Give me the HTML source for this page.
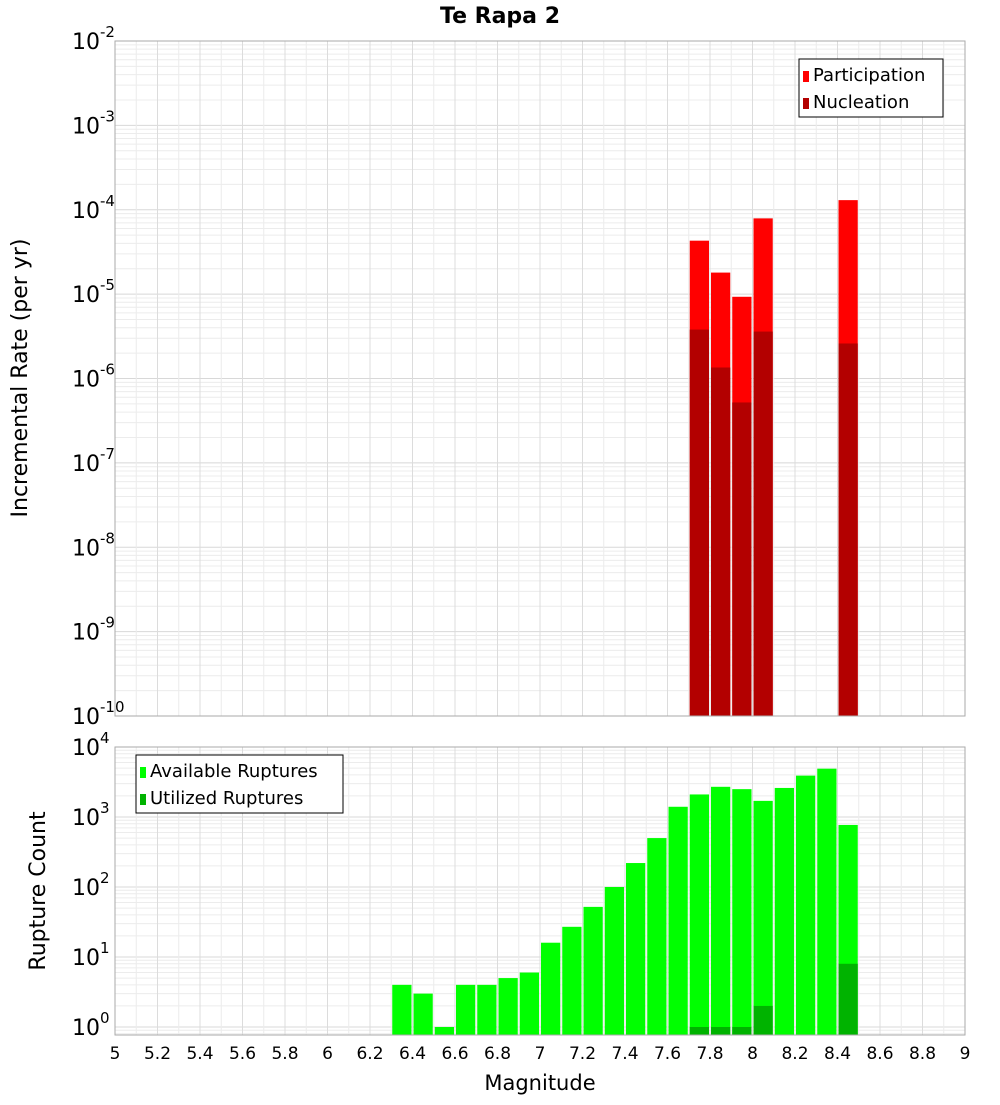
<!DOCTYPE html>
<html><head><meta charset="utf-8"><style>
body{margin:0;background:#fff;font-family:"Liberation Sans","DejaVu Sans",sans-serif}
</style></head><body>
<svg id="c" width="1000" height="1100" xmlns="http://www.w3.org/2000/svg" font-family="DejaVu Sans, Liberation Sans, sans-serif"></svg>
<script>
const mags=[7.75,7.85,7.95,8.05,8.45];
const partRates=[4.3e-5,1.8e-5,9.3e-6,7.9e-5,1.3e-4];
const nuclRates=[3.8e-6,1.35e-6,5.2e-7,3.6e-6,2.6e-6];
const ruptMags=[6.35,6.45,6.55,6.65,6.75,6.85,6.95,7.05,7.15,7.25,7.35,7.45,7.55,7.65,7.75,7.85,7.95,8.05,8.15,8.25,8.35,8.45];
const availCounts=[4,3,1,4,4,5,6,16,27,52,100,220,500,1400,2100,2700,2500,1700,2600,3900,4900,770];
const usedMags=[7.75,7.85,7.95,8.05,8.45];
const usedCounts=[1,1,1,2,8];
const xTicks=[5,5.2,5.4,5.6,5.8,6,6.2,6.4,6.6,6.8,7,7.2,7.4,7.6,7.8,8,8.2,8.4,8.6,8.8,9];
const topExp=[-10,-9,-8,-7,-6,-5,-4,-3,-2];
const botExp=[0,1,2,3,4];

const NS="http://www.w3.org/2000/svg",svg=document.getElementById('c');
function el(t,a,p){const e=document.createElementNS(NS,t);for(const k in a)e.setAttribute(k,a[k]);(p||svg).appendChild(e);return e;}
const X0=115,X1=965;
const x=m=>X0+(m-5)/4*(X1-X0);
const T0=41,T1=716;
const yT=v=>T0+(-2-Math.log10(v))*(T1-T0)/8;
const B0=747,B1=1035,BD=70,B1e0=1027;
const yB=v=>B1e0-Math.log10(v)*BD;

function grid(top,bot,ylog,e0,e1,name){
  const g=el('g',{});
  for(let e=e0;e<=e1;e++)for(let k=1;k<10;k++){const y=ylog(k*Math.pow(10,e));if(y<top-0.5||y>bot+0.5)continue;
    el('line',{x1:X0,x2:X1,y1:y,y2:y,stroke:k==1?'#d8d8d8':'#ececec','stroke-width':1},g);}
  for(let m=5;m<=9.001;m+=0.1){const xx=x(m);el('line',{x1:xx,x2:xx,y1:top,y2:bot,stroke:'#ececec','stroke-width':1},g);}
  for(const t of xTicks){el('line',{x1:x(t),x2:x(t),y1:top,y2:bot,stroke:'#dcdcdc','stroke-width':1},g);}
}
grid(T0,T1,yT,-10,-3,'top-grid');
grid(B0,B1,yB,-1,4,'bottom-grid');

function bar(m,v,ylog,base,color,name){
  const y=ylog(v);const r=el('rect',{x:x(m-0.05)+1,y:y,width:x(0.1+5)-X0-2,height:base-y,fill:color});
  
}
mags.forEach((m,i)=>bar(m,partRates[i],yT,T1,'#ff0000','participation-bar'));
mags.forEach((m,i)=>bar(m,nuclRates[i],yT,T1,'#b30000','nucleation-bar'));
ruptMags.forEach((m,i)=>bar(m,availCounts[i],yB,B1,'#00ff00','available-bar'));
usedMags.forEach((m,i)=>bar(m,usedCounts[i],yB,B1,'#00b300','utilized-bar'));

el('rect',{x:X0,y:T0,width:X1-X0,height:T1-T0,fill:'none',stroke:'#aaa'});
el('rect',{x:X0,y:B0,width:X1-X0,height:B1-B0,fill:'none',stroke:'#aaa'});

function ylab(y,e,name){
  const t=el('text',{x:X0-5,y:y+8,'text-anchor':'end','font-size':22,fill:'#000'});
  
  const a=el('tspan',{},t);a.textContent='10';const b=el('tspan',{dy:-12,'font-size':15},t);b.textContent=e;
  t.setAttribute('x',X0+4);
  return t;
}
topExp.forEach(e=>{const y=yT(Math.pow(10,e));const t=el('text',{x:72,y:y+8,'font-size':22});
  const a=el('tspan',{},t);a.textContent='10';const b=el('tspan',{dy:-12,'font-size':15},t);b.textContent=String(e);});
botExp.forEach(e=>{const y=yB(Math.pow(10,e));const t=el('text',{x:72,y:y+8,'font-size':22});
  const a=el('tspan',{},t);a.textContent='10';const b=el('tspan',{dy:-12,'font-size':15},t);b.textContent=String(e);});
xTicks.forEach(t=>{const s=el('text',{x:x(t),y:1059,'text-anchor':'middle','font-size':17});s.textContent=String(t);});

function txt(s,a,name){const t=el('text',a);t.textContent=s;return t;}
txt('Te Rapa 2',{x:500,y:23,'text-anchor':'middle','font-size':22,'font-weight':'bold'},'chart-title');
txt('Magnitude',{x:540,y:1090,'text-anchor':'middle','font-size':21},'x-axis-title');
txt('Incremental Rate (per yr)',{x:27,y:378,'text-anchor':'middle','font-size':22,transform:'rotate(-90 27 378)'},'top-y-axis-title');
txt('Rupture Count',{x:45,y:891,'text-anchor':'middle','font-size':22,transform:'rotate(-90 45 891)'},'bottom-y-axis-title');

function legend(x0,y0,w,items,name){
  const g=el('g',{});
  el('rect',{x:x0,y:y0,width:w,height:58,fill:'#fff',stroke:'#000'},g);
  items.forEach((it,i)=>{el('rect',{x:x0+4,y:y0+12+i*27,width:6,height:11,fill:it[1]},g);
    const t=el('text',{x:x0+14,y:y0+22+i*27,'font-size':18},g);t.textContent=it[0];});
}
legend(799,59,144,[['Participation','#ff0000'],['Nucleation','#b30000']],'top-legend');
legend(136,755,207,[['Available Ruptures','#00ff00'],['Utilized Ruptures','#00b300']],'bottom-legend');
</script>
</body></html>
